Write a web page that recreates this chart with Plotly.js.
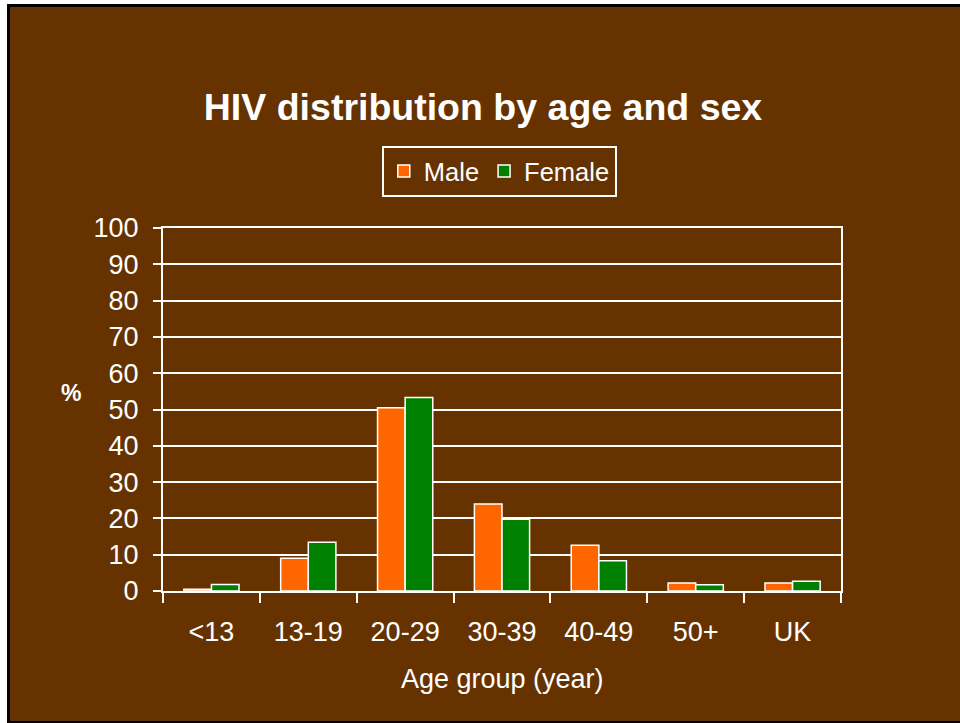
<!DOCTYPE html>
<html>
<head>
<meta charset="utf-8">
<script src="https://cdn.plot.ly/plotly-3.0.1.min.js"></script>
<style>
  html, body { margin: 0; padding: 0; background: #ffffff; width: 960px; height: 723px; overflow: hidden; }
  #wrap { position: absolute; left: 7px; top: 4px; width: 950px; height: 714px;
          border-left: 3px solid #000; border-top: 3px solid #000; border-bottom: 2px solid #000; background: #663300; }
  #chart { width: 950px; height: 714px; }
</style>
</head>
<body>
<div id="wrap"><div id="chart"></div></div>
<script>
const categories = ["<13", "13-19", "20-29", "30-39", "40-49", "50+", "UK"];
const maleValues = [0.5, 9.0, 50.5, 24.0, 12.6, 2.2, 2.2];
const femaleValues = [1.8, 13.4, 53.3, 19.8, 8.3, 1.7, 2.7];
const yTickValues = [0, 10, 20, 30, 40, 50, 60, 70, 80, 90, 100];

const FONT = "Liberation Sans, Arial, sans-serif";
const BG = "#663300";

const traces = [
  { type: "bar", name: "Male", x: categories, y: maleValues,
    marker: { color: "#FF6600", line: { color: "#ffffff", width: 1.5 } } },
  { type: "bar", name: "Female", x: categories, y: femaleValues,
    marker: { color: "#008000", line: { color: "#ffffff", width: 1.5 } } }
];

const layout = {
  width: 950, height: 714,
  paper_bgcolor: BG, plot_bgcolor: BG,
  margin: { l: 153, r: 119, t: 221, b: 130 },
  font: { family: FONT, color: "#ffffff", size: 27 },
  title: { text: "<b>HIV distribution by age and sex</b>", font: { family: FONT, size: 37.5, color: "#ffffff" },
           x: 473 / 950, xref: "container", xanchor: "center", y: 1 - 100 / 714, yanchor: "middle", yref: "container" },
  barmode: "group", bargap: 0.43, bargroupgap: 0,
  showlegend: true,
  legend: { orientation: "h", x: 0.496, xanchor: "center", y: 1.226, yanchor: "top",
            bgcolor: "rgba(0,0,0,0)", bordercolor: "#ffffff", borderwidth: 2,
            font: { family: FONT, size: 25.5, color: "#ffffff" }, traceorder: "normal",
            itemwidth: 30, tracegroupgap: 0 },
  xaxis: { type: "category", showline: true, linecolor: "#ffffff", linewidth: 2, mirror: true,
           ticks: "outside", tickson: "boundaries", ticklen: 10, tickcolor: "#ffffff", tickwidth: 2,
           ticklabelstandoff: 16, showgrid: false, zeroline: false,
           tickfont: { family: FONT, size: 27, color: "#ffffff" } },
  yaxis: { range: [0, 100], tickvals: yTickValues, showline: true, linecolor: "#ffffff", linewidth: 2, mirror: true,
           ticks: "outside", ticklen: 8, tickcolor: "#ffffff", tickwidth: 2, ticklabelstandoff: 9,
           showgrid: true, gridcolor: "#ffffff", gridwidth: 2, zeroline: false,
           tickfont: { family: FONT, size: 27, color: "#ffffff" } },
  annotations: [
    { text: "<b>%</b>", xref: "paper", yref: "paper", x: -0.135, y: 0.545, xanchor: "center", yanchor: "middle",
      showarrow: false, font: { family: FONT, size: 23, color: "#ffffff" } },
    { text: "Age group (year)", xref: "paper", yref: "paper", x: 0.501, y: -0.242, xanchor: "center", yanchor: "middle",
      showarrow: false, font: { family: FONT, size: 27, color: "#ffffff" } }
  ]
};

Plotly.newPlot("chart", traces, layout, { displayModeBar: false, staticPlot: true });
</script>
</body>
</html>
